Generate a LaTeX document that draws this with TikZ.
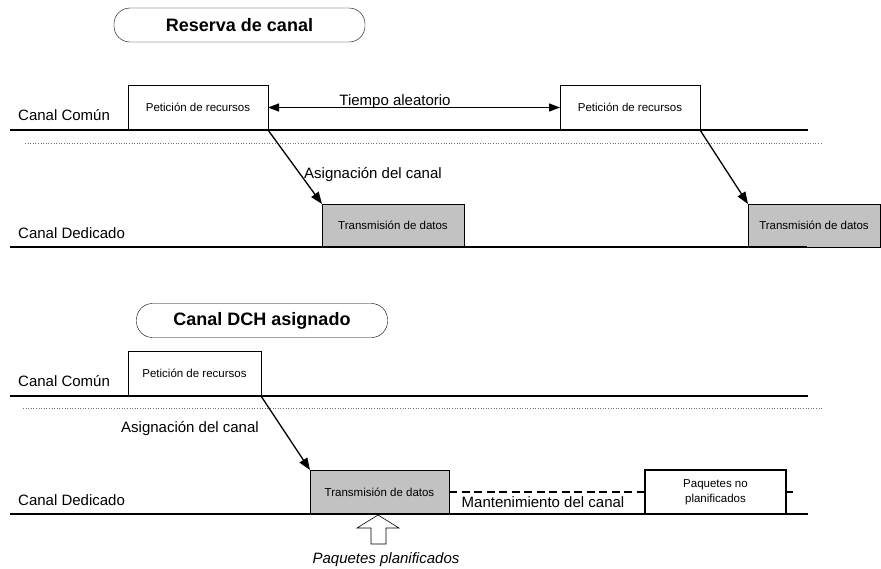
\documentclass[tikz,border=0pt]{standalone}
\usepackage{fontspec}
\setmainfont{Liberation Sans}
\usepackage{tikz}
\usetikzlibrary{positioning}
\usetikzlibrary{arrows.meta}

\tikzset{
    titulo/.style={draw, rounded corners=16pt, inner sep=0pt, minimum width=251pt, minimum height=34pt, font=\fontsize{18}{21}\selectfont\bfseries},
    caja/.style={draw, anchor=north west, inner sep=0pt, outer sep=0pt, line width=0.6pt, align=center, font=\fontsize{11.5}{15}\selectfont},
    datos/.style={caja, fill=black!24},
    etiq/.style={inner sep=0pt, font=\fontsize{15}{18}\selectfont},
    canal/.style={line width=1.6pt},
    guia/.style={dotted, black!55, line width=0.6pt},
    flecha/.style={-{Triangle[length=12pt,width=9pt]}, line width=1.3pt},
}

\begin{document}
\begin{tikzpicture}[x=1pt, y=-1pt]
    \useasboundingbox (0,0) rectangle (881,568);
    % nodes %
    \node[titulo] (t1) at (239.5,25) {Reserva de canal};
    \node[etiq, anchor=base west] (cc1) at (18,120) {Canal Común};
    \node[etiq, anchor=base west] (cd1) at (18,238) {Canal Dedicado};
    \node[caja, minimum width=140pt, minimum height=45pt] (p1) at (128,85) {Petición de recursos};
    \node[caja, minimum width=140pt, minimum height=45pt] (p2) at (560,85) {Petición de recursos};
    \node[datos, minimum width=142pt, minimum height=43pt] (d1) at (322,204) {Transmisión de datos};
    \node[datos, minimum width=132pt, minimum height=43pt] (d2) at (748,204) {Transmisión de datos};
    \node[etiq, anchor=base] (ta) at (395,105) {Tiempo aleatorio};
    \node[etiq, anchor=base] (as1) at (373,178) {Asignación del canal};

    \node[titulo] (t2) at (262,320.5) {Canal DCH asignado};
    \node[etiq, anchor=base west] (cc2) at (18,386) {Canal Común};
    \node[etiq, anchor=base west] (cd2) at (18,505) {Canal Dedicado};
    \node[caja, minimum width=133pt, minimum height=45pt] (p3) at (128,351) {Petición de recursos};
    \node[datos, minimum width=139pt, minimum height=44pt] (d3) at (310,470) {Transmisión de datos};
    \node[caja, line width=2pt, minimum width=141pt, minimum height=44pt] (pnp) at (645,470) {Paquetes no\\planificados};
    \node[etiq, anchor=base] (mc) at (543,507) {Mantenimiento del canal};
    \node[etiq, anchor=base] (as2) at (190,432) {Asignación del canal};
    \node[etiq, anchor=base, font=\fontsize{15}{18}\selectfont\itshape] (pp) at (386,563) {Paquetes planificados};
    \coordinate (fin) at (793,492);
    % channels %
    \draw[canal] (10,130) -- (808,130);
    \draw[canal] (10,247) -- (807,247);
    \draw[guia] (25,143) -- (822,143);
    \draw[canal] (10,396) -- (808,396);
    \draw[canal] (10,514) -- (808,514);
    \draw[guia] (23,408) -- (822,408);
    % edges %
    \draw[{Triangle[length=11pt,width=8pt]}-{Triangle[length=11pt,width=8pt]}, line width=1.3pt] (p1.east) -- (p2.west);
    \draw[flecha] (p1.south east) -- (d1.north west);
    \draw[flecha] (p2.south east) -- (d2.north west);
    \draw[flecha] (p3.south east) -- (d3.north west);
    \draw[dashed, dash pattern=on 8pt off 4.5pt, line width=1.1pt] (d3.east) -- (pnp.west);
    \draw[dashed, dash pattern=on 8pt off 4.5pt, line width=1.1pt] (pnp.east) -- (fin);
    % hollow arrow %
    \draw[line width=0.6pt, fill=white] (378,515) -- (399,528) -- (386,528) -- (386,544) -- (371,544) -- (371,528) -- (357,528) -- cycle;
\end{tikzpicture}
\end{document}
